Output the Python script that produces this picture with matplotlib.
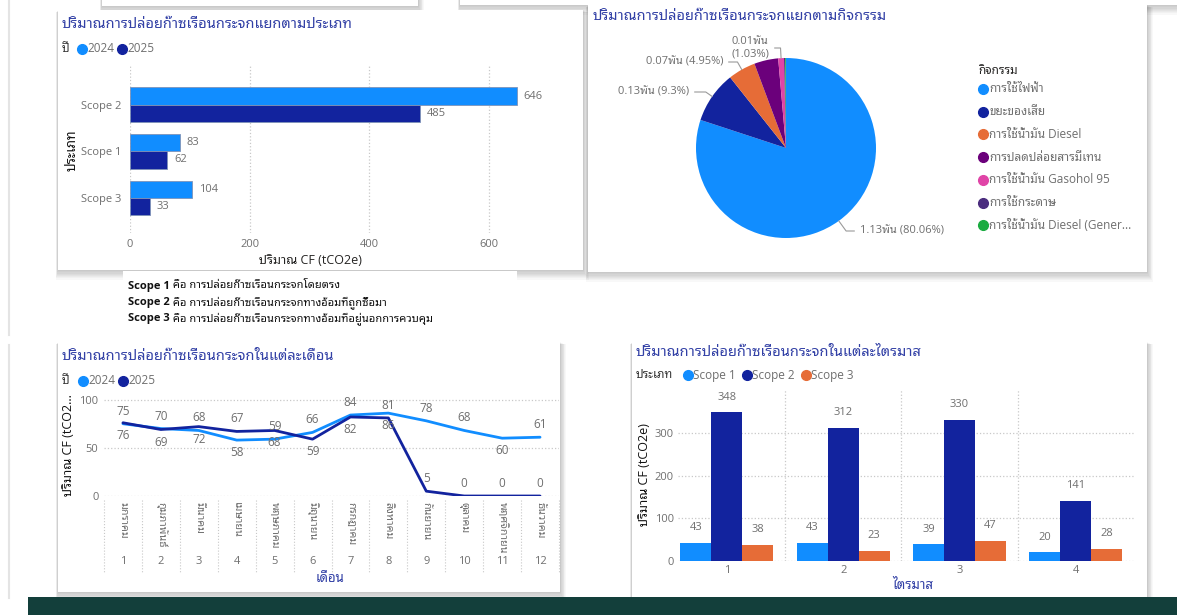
import matplotlib
matplotlib.use('Agg')
import matplotlib.pyplot as plt
from matplotlib.patches import Rectangle
from matplotlib import transforms
import numpy as np

plt.rcParams['font.family'] = ['Open Sans', 'Noto Sans Thai Looped', 'Noto Sans Thai', 'DejaVu Sans']

W, H = 1177, 615

# ---------------- data
scopes = ['Scope 2', 'Scope 1', 'Scope 3']
scope_2024 = [646, 83, 104]
scope_2025 = [485, 62, 33]

activities = ['การใช้ไฟฟ้า', 'ขยะของเสีย', 'การใช้น้ำมัน Diesel', 'การปลดปล่อยสารมีเทน',
              'การใช้น้ำมัน Gasohol 95', 'การใช้กระดาษ', 'การใช้น้ำมัน Diesel (Gener...']
activity_values = [1131, 131.4, 69.9, 61.0, 14.6, 3.0, 2.0]
activity_labels = ['1.13พัน (80.06%)', '0.13พัน (9.3%)', '0.07พัน (4.95%)', '',
                   '0.01พัน\n(1.03%)', '', '']

months = list(range(1, 13))
month_names = ['มกราคม', 'กุมภาพันธ์', 'มีนาคม', 'เมษายน', 'พฤษภาคม', 'มิถุนายน',
               'กรกฎาคม', 'สิงหาคม', 'กันยายน', 'ตุลาคม', 'พฤศจิกายน', 'ธันวาคม']
monthly_2024 = [75, 70, 68, 58, 59, 66, 84, 86, 78, 68, 60, 61]
monthly_2025 = [76, 69, 72, 67, 68, 59, 82, 81, 5, 0, 0, 0]

quarters = [1, 2, 3, 4]
q_scope1 = [43, 43, 39, 20]
q_scope2 = [348, 312, 330, 141]
q_scope3 = [38, 23, 47, 28]

scope_notes = [('Scope 1', ' คือ การปล่อยก๊าซเรือนกระจกโดยตรง'),
               ('Scope 2', ' คือ การปล่อยก๊าซเรือนกระจกทางอ้อมที่ถูกซื้อมา'),
               ('Scope 3', ' คือ การปล่อยก๊าซเรือนกระจกทางอ้อมที่อยู่นอกการควบคุม')]

# ---------------- style
C_LIGHT = '#118DFF'
C_DARK = '#12239E'
C_ORANGE = '#E66C37'
pie_colors = ['#118DFF', '#12239E', '#E66C37', '#6B007B', '#E044A7', '#4A2C7E', '#1AAB40']
TITLE = '#3341A6'
GRAY = '#6F6F6F'
GRID = '#C8C8C8'


def box(x0, y0, x1, y1):
    return [x0 / W, 1 - y1 / H, (x1 - x0) / W, (y1 - y0) / H]


fig = plt.figure(figsize=(W / 100, H / 100), dpi=100)
fig.patch.set_facecolor('white')
bg = fig.add_axes([0, 0, 1, 1])
bg.set_xlim(0, W)
bg.set_ylim(H, 0)
bg.axis('off')


def panel(x0, y0, x1, y1):
    # soft drop shadow, mostly right / bottom
    for d in range(1, 9):
        bg.add_patch(Rectangle((x0 - d * 0.3, y0 + d * 0.3), x1 - x0 + d * 1.0, y1 - y0 + d * 0.9,
                               facecolor='black', edgecolor='none', alpha=0.028, zorder=1))
    bg.add_patch(Rectangle((x0, y0), x1 - x0, y1 - y0, facecolor='white', edgecolor='none', zorder=2))


# page decoration
bg.plot([9, 9], [0, 335], color='#E4E4E4', lw=1.5, zorder=1)
bg.plot([9, 9], [345, 598], color='#E4E4E4', lw=1.5, zorder=1)
panel(102, -20, 418, 6)
panel(460, -20, 1190, 5)
panel(58, 10, 583, 270)
panel(588, 5, 1147, 272)
panel(58, 342, 560, 592)
panel(632, 342, 1147, 598)
bg.add_patch(Rectangle((28, 597), W - 28, 20, facecolor='#133F3B', edgecolor='none', zorder=3))


def legend_dot(x, y, c):
    bg.plot(x, y, 'o', ms=7, color=c, zorder=5)


def txt(x, y, s, **kw):
    kw.setdefault('zorder', 5)
    kw.setdefault('va', 'center')
    return bg.text(x, y, s, **kw)


# =============== panel 1 : bars by scope
txt(62, 24, 'ปริมาณการปล่อยก๊าซเรือนกระจกแยกตามประเภท', color=TITLE, fontsize=10.5)
txt(62, 49, 'ปี', color='#333333', fontsize=8.5, fontweight='bold')
legend_dot(82, 49, C_LIGHT)
txt(87, 49, '2024', color=GRAY, fontsize=8.5)
legend_dot(122, 49, C_DARK)
txt(127, 49, '2025', color=GRAY, fontsize=8.5)

ax1 = fig.add_axes(box(130, 65, 549, 233))
ax1.set_facecolor('none')
yy = np.arange(len(scopes))
h = 0.37
b1 = ax1.barh(yy - h / 2, scope_2024, height=h, color=C_LIGHT, edgecolor='#7F93B8', lw=0.6, zorder=3)
b2 = ax1.barh(yy + h / 2, scope_2025, height=h, color=C_DARK, edgecolor='#7F93B8', lw=0.6, zorder=3)
for bars, vals in [(b1, scope_2024), (b2, scope_2025)]:
    for r, v in zip(bars, vals):
        ax1.annotate(str(v), (v, r.get_y() + r.get_height() / 2), xytext=(5, 0),
                     textcoords='offset points', va='center', ha='left', fontsize=8, color=GRAY)
ax1.set_xlim(0, 700)
ax1.set_ylim(2.75, -0.85)
ax1.set_yticks(yy)
ax1.set_yticklabels(scopes)
ax1.set_xticks([0, 200, 400, 600])
ax1.grid(axis='x', ls=':', color=GRID, lw=0.9, zorder=0)
for s in ax1.spines.values():
    s.set_visible(False)
ax1.tick_params(length=0, labelsize=8, colors=GRAY)
ax1.tick_params(axis='y', pad=6)
ax1.tick_params(axis='x', pad=4)
txt(310, 260, 'ปริมาณ CF (tCO2e)', color='#252423', fontsize=9, ha='center')
txt(72, 150, 'ประเภท', color='#111111', fontsize=9.5, fontweight='bold', rotation=90, ha='center')

# note text box
bg.add_patch(Rectangle((123, 271), 394, 62, facecolor='white', edgecolor='none', zorder=4))
fig.canvas.draw()
rend = fig.canvas.get_renderer()
for i, (bold, rest) in enumerate(scope_notes):
    t = txt(128, 286 + i * 16.5, bold, color='#111111', fontsize=8, fontweight='bold')
    ext = t.get_window_extent(rend)
    txt(128 + ext.width, 286 + i * 16.5, rest, color='#111111', fontsize=8)

# =============== panel 2 : pie by activity
txt(593, 17, 'ปริมาณการปล่อยก๊าซเรือนกระจกแยกตามกิจกรรม', color=TITLE, fontsize=10.5)
ax2 = fig.add_axes(box(696, 58, 876, 238))
wedges, _ = ax2.pie(activity_values, colors=pie_colors, startangle=90, counterclock=False,
                    radius=1, wedgeprops=dict(linewidth=0))
ax2.set_xlim(-1, 1)
ax2.set_ylim(-1, 1)
ax2.set_aspect('equal')
label_pos = [(860, 231, 'left'), (689, 92, 'right'), (723, 62, 'right'), None,
             (769, 48, 'right'), None, None]
for w, lab, pos in zip(wedges, activity_labels, label_pos):
    if not lab:
        continue
    ang = (w.theta1 + w.theta2) / 2
    px, py = np.cos(np.radians(ang)), np.sin(np.radians(ang))
    ax2.annotate(lab, (px, py), xytext=(pos[0], pos[1]), textcoords=bg.transData,
                 ha=pos[2], va='center', fontsize=8, color=GRAY, multialignment='center',
                 annotation_clip=False,
                 arrowprops=dict(arrowstyle='-', color='#9A9A9A', lw=0.8, shrinkA=2, shrinkB=0,
                                 connectionstyle='angle,angleA=0,angleB=%f,rad=0' % ang))
txt(978, 70, 'กิจกรรม', color='#252423', fontsize=8.5, fontweight='bold')
for i, (name, c) in enumerate(zip(activities, pie_colors)):
    y = 89 + i * 22.7
    legend_dot(983, y, c)
    txt(989, y, name, color=GRAY, fontsize=8.5)

# =============== panel 3 : monthly line
txt(62, 357, 'ปริมาณการปล่อยก๊าซเรือนกระจกในแต่ละเดือน', color=TITLE, fontsize=10.5)
txt(62, 381, 'ปี', color='#333333', fontsize=8.5, fontweight='bold')
legend_dot(83, 381, C_LIGHT)
txt(88, 381, '2024', color=GRAY, fontsize=8.5)
legend_dot(123, 381, C_DARK)
txt(128, 381, '2025', color=GRAY, fontsize=8.5)

ax3 = fig.add_axes(box(104, 390, 559, 496))
ax3.set_facecolor('none')
ax3.plot(months, monthly_2024, color=C_LIGHT, lw=2, zorder=3, solid_capstyle='round')
ax3.plot(months, monthly_2025, color=C_DARK, lw=2, zorder=3, solid_capstyle='round')
pos_2024 = [1, 1, 1, -1, 1, 1, 1, -1, 1, 1, -1, 1]
pos_2025 = [-1, -1, -1, 1, -1, -1, -1, 1, 1, 1, 1, 1]
for vals, pos in [(monthly_2024, pos_2024), (monthly_2025, pos_2025)]:
    for m, v, p in zip(months, vals, pos):
        ax3.annotate(str(v), (m, v), xytext=(0, 9 * p), textcoords='offset points',
                     ha='center', va='center', fontsize=8.5, color=GRAY, zorder=4)
ax3.set_xlim(0.5, 12.5)
ax3.set_ylim(0, 110)
ax3.set_yticks([0, 50, 100])
ax3.set_xticks(months)
ax3.set_xticklabels(month_names, rotation=-90, va='top', ha='center')
ax3.grid(axis='y', ls=':', color=GRID, lw=0.9, zorder=0)
for s in ax3.spines.values():
    s.set_visible(False)
ax3.tick_params(length=0, labelsize=7.8, colors=GRAY)
ax3.tick_params(axis='x', pad=4)
ax3.tick_params(axis='y', pad=4, labelsize=8)
mix3 = transforms.blended_transform_factory(ax3.transData, bg.transData)
for m in months:
    ax3.text(m, 561, str(m), transform=mix3, ha='center', va='center', fontsize=8, color=GRAY)
ax3.vlines(np.arange(0.5, 13, 1), 500, 572, transform=mix3, colors=GRID, linestyles=':', lw=0.8,
           clip_on=False)
txt(68, 445, 'ปริมาณ CF (tCO2...', color='#111111', fontsize=9, rotation=90, ha='center')
txt(330, 578, 'เดือน', color=TITLE, fontsize=9.5, fontweight='bold', ha='center')

# =============== panel 4 : quarterly bars
txt(636, 352, 'ปริมาณการปล่อยก๊าซเรือนกระจกในแต่ละไตรมาส', color=TITLE, fontsize=10.5)
txt(636, 375, 'ประเภท', color='#333333', fontsize=8.5, fontweight='bold')
qx = 688
for lab, c in [('Scope 1', C_LIGHT), ('Scope 2', C_DARK), ('Scope 3', C_ORANGE)]:
    legend_dot(qx, 375, c)
    txt(qx + 5, 375, lab, color=GRAY, fontsize=8.5)
    qx += 59

ax4 = fig.add_axes(box(678, 390, 1134, 561))
ax4.set_facecolor('none')
xq = np.array(quarters)
bw = 0.267
for off, vals, c in [(-bw, q_scope1, C_LIGHT), (0, q_scope2, C_DARK), (bw, q_scope3, C_ORANGE)]:
    bars = ax4.bar(xq + off, vals, width=bw, color=c, zorder=3)
    for r, v in zip(bars, vals):
        ax4.annotate(str(v), (r.get_x() + r.get_width() / 2, v), xytext=(0, 7),
                     textcoords='offset points', ha='center', va='bottom', fontsize=8, color=GRAY)
ax4.set_xlim(0.58, 4.5)
ax4.set_ylim(0, 400)
ax4.set_yticks([0, 100, 200, 300])
ax4.set_xticks(quarters)
ax4.grid(axis='y', ls=':', color=GRID, lw=0.9, zorder=0)
for xv in [1.5, 2.5, 3.5]:
    ax4.axvline(xv, ls=':', color=GRID, lw=0.9, zorder=0)
for s in ax4.spines.values():
    s.set_visible(False)
ax4.tick_params(length=0, labelsize=8, colors=GRAY)
ax4.tick_params(axis='y', pad=3)
ax4.tick_params(axis='x', pad=3)
txt(645, 475, 'ปริมาณ CF (tCO2e)', color='#111111', fontsize=9, rotation=90, ha='center')
txt(913, 585, 'ไตรมาส', color=TITLE, fontsize=9.5, fontweight='bold', ha='center')

fig.savefig('out.png', dpi=100)
